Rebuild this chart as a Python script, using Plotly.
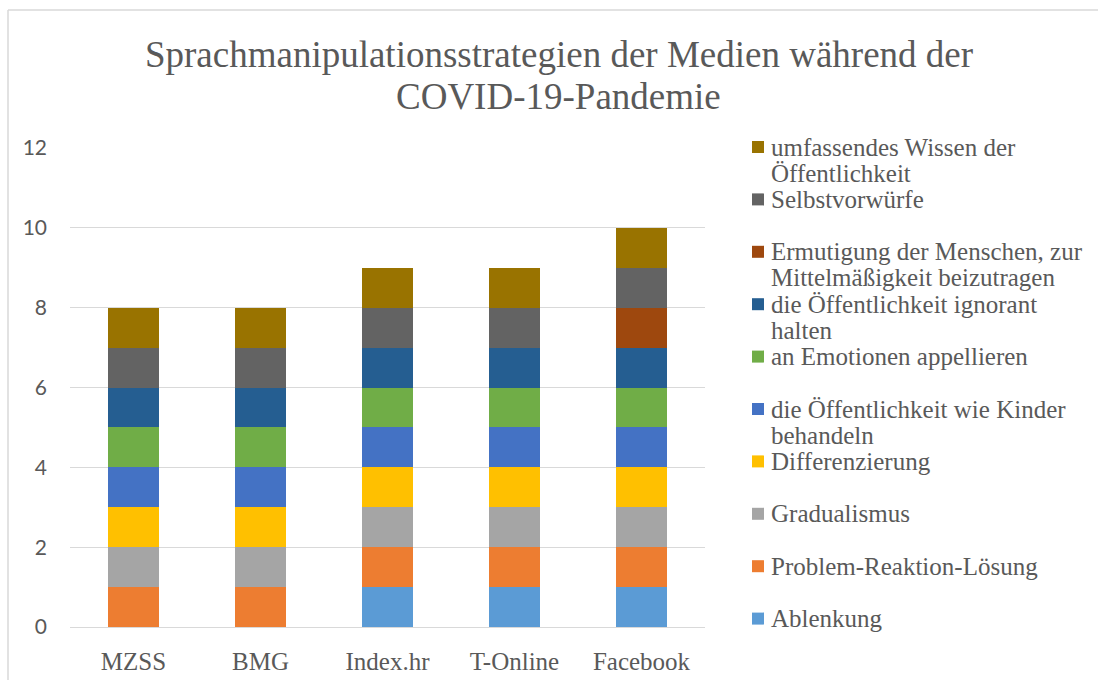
import textwrap
import plotly.graph_objects as go

categories = ["MZSS", "BMG", "Index.hr", "T-Online", "Facebook"]

series_names = [
    "Ablenkung",
    "Problem-Reaktion-Lösung",
    "Gradualismus",
    "Differenzierung",
    "die Öffentlichkeit wie Kinder behandeln",
    "an Emotionen appellieren",
    "die Öffentlichkeit ignorant halten",
    "Ermutigung der Menschen, zur Mittelmäßigkeit beizutragen",
    "Selbstvorwürfe",
    "umfassendes Wissen der Öffentlichkeit",
]

ablenkung = [0, 0, 1, 1, 1]
problem_reaktion_loesung = [1, 1, 1, 1, 1]
gradualismus = [1, 1, 1, 1, 1]
differenzierung = [1, 1, 1, 1, 1]
wie_kinder = [1, 1, 1, 1, 1]
emotionen = [1, 1, 1, 1, 1]
ignorant_halten = [1, 1, 1, 1, 1]
mittelmaessigkeit = [0, 0, 0, 0, 1]
selbstvorwuerfe = [1, 1, 1, 1, 1]
umfassendes_wissen = [1, 1, 1, 1, 1]

series_values = [
    ablenkung, problem_reaktion_loesung, gradualismus, differenzierung,
    wie_kinder, emotionen, ignorant_halten, mittelmaessigkeit,
    selbstvorwuerfe, umfassendes_wissen,
]

colors = ["#5B9BD5", "#ED7D31", "#A5A5A5", "#FFC000", "#4472C4",
          "#70AD47", "#255E91", "#9E480E", "#636363", "#997300"]

y_ticks = [0, 2, 4, 6, 8, 10, 12]

title_line1 = "Sprachmanipulationsstrategien der Medien während der"
title_line2 = "COVID-19-Pandemie"

W, H = 1098, 680
ML, MR, MT, MB = 70, 393, 148, 53
PW, PH = W - ML - MR, H - MT - MB

TEXT = "#595959"
GRID = "#D9D9D9"
SERIF = "'Liberation Serif', 'Times New Roman', serif"
SANS = "Lato"


def px_x(px):
    return (px - ML) / PW


def px_y(py):
    return (H - MB - py) / PH


fig = go.Figure()
for name, vals, col in zip(series_names, series_values, colors):
    fig.add_trace(go.Bar(
        x=categories, y=vals, name=name,
        marker=dict(color=col, line=dict(width=0)),
        showlegend=False,
    ))

# legend drawn Excel-style: equal slots, top item = last series
annotations = []
shapes = []
slot = 52.4
first_y = 147
for i, idx in enumerate(reversed(range(len(series_names)))):
    lines = textwrap.wrap(series_names[idx], 29, break_on_hyphens=False)
    yc = first_y + i * slot
    shapes.append(dict(
        type="rect", xref="paper", yref="paper",
        x0=px_x(752), x1=px_x(764), y0=px_y(yc + 6), y1=px_y(yc - 6),
        fillcolor=colors[idx], line=dict(width=0),
    ))
    for j, ln in enumerate(lines):
        annotations.append(dict(
            text=ln, xref="paper", yref="paper",
            x=px_x(769), y=px_y(yc + j * 26),
            xanchor="left", yanchor="middle", showarrow=False,
            font=dict(family=SERIF, size=25, color=TEXT),
        ))

annotations.append(dict(
    text=title_line2, xref="paper", yref="paper",
    x=px_x(558), y=px_y(96), xanchor="center", yanchor="middle",
    showarrow=False, font=dict(family=SERIF, size=37, color=TEXT),
))

# chart area border (top and left edges visible in the crop)
shapes.append(dict(
    type="line", xref="paper", yref="paper", layer="below",
    x0=px_x(8), x1=px_x(1100), y0=px_y(10), y1=px_y(10),
    line=dict(color=GRID, width=1.5),
))
shapes.append(dict(
    type="line", xref="paper", yref="paper", layer="below",
    x0=px_x(8), x1=px_x(8), y0=px_y(10), y1=px_y(682),
    line=dict(color=GRID, width=1.5),
))

fig.update_layout(
    width=W, height=H,
    margin=dict(l=ML, r=MR, t=MT, b=MB, autoexpand=False),
    paper_bgcolor="white", plot_bgcolor="white",
    barmode="stack", bargap=0.606,
    title=dict(
        text=title_line1, x=559 / W, xanchor="center",
        y=1 - 54 / H, yanchor="middle", yref="container",
        font=dict(family=SERIF, size=37, color=TEXT),
    ),
    xaxis=dict(
        showgrid=False, showline=True, linecolor=GRID, linewidth=1,
        tickfont=dict(family=SERIF, size=25, color=TEXT),
        ticks="", ticklabelstandoff=12, automargin=False,
    ),
    yaxis=dict(
        range=[0, 12], tickvals=y_ticks, showgrid=True, gridcolor=GRID,
        gridwidth=1, zeroline=False, showline=False,
        tickfont=dict(family=SANS, size=21, color=TEXT),
        ticks="", ticklabelstandoff=22, automargin=False,
    ),
    annotations=annotations,
    shapes=shapes,
    showlegend=False,
)

fig.write_html("out.html", config={"displayModeBar": False},
               post_script="document.body.style.margin='0';")
